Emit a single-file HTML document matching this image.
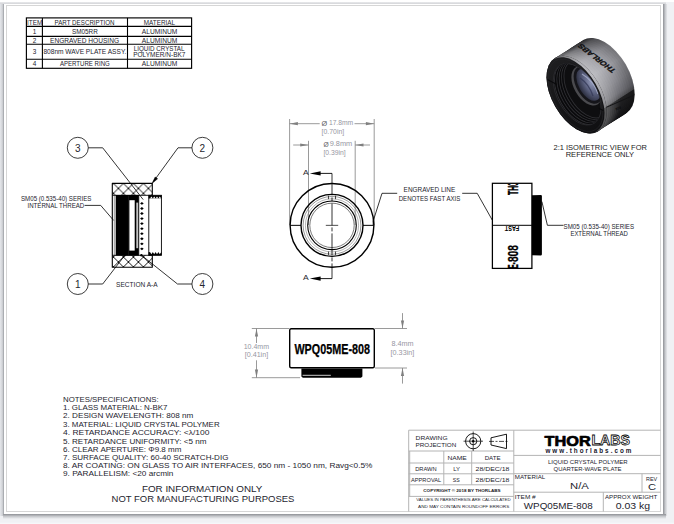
<!DOCTYPE html>
<html lang="en">
<head>
<meta charset="utf-8">
<title>WPQ05ME-808 Drawing</title>
<style>
html,body{margin:0;padding:0;background:#f0f1f4;overflow:hidden;}
body{width:674px;height:524px;position:relative;font-family:'Liberation Sans', sans-serif;}
svg{display:block;position:absolute;left:0;top:0;}
svg text{font-family:"Liberation Sans",sans-serif;}
</style>
</head>
<body>
<svg width="674" height="524" viewBox="0 0 674 524">
<defs>
<linearGradient id="shL" x1="0" x2="1" y1="0" y2="0"><stop offset="0" stop-color="#e6e8ec"/><stop offset="0.6" stop-color="#d0d2d6"/><stop offset="1" stop-color="#9a9da2"/></linearGradient>
<linearGradient id="shR" x1="0" x2="1" y1="0" y2="0"><stop offset="0" stop-color="#8e9095"/><stop offset="0.5" stop-color="#c8cace"/><stop offset="1" stop-color="#f0f1f4"/></linearGradient>
<linearGradient id="shB" x1="0" x2="0" y1="0" y2="1"><stop offset="0" stop-color="#8e9095"/><stop offset="0.5" stop-color="#c8cace"/><stop offset="1" stop-color="#f0f1f4"/></linearGradient>
<linearGradient id="shT" x1="0" x2="0" y1="0" y2="1"><stop offset="0" stop-color="#e9eaec"/><stop offset="1" stop-color="#d4d5d8"/></linearGradient>
</defs>
<rect x="0" y="0" width="674" height="524" stroke="none" stroke-width="1" fill="#f0f1f4"/>
<rect x="0" y="0" width="674" height="2" stroke="none" stroke-width="1" fill="#ffffff"/>
<rect x="0" y="2" width="666" height="2" stroke="none" stroke-width="1" fill="url(#shT)"/>
<rect x="0" y="4" width="4" height="512" stroke="none" stroke-width="1" fill="url(#shL)"/>
<rect x="663" y="4" width="4.6" height="512" stroke="none" stroke-width="1" fill="url(#shR)"/>
<rect x="3" y="514" width="663" height="5" stroke="none" stroke-width="1" fill="url(#shB)"/>
<rect x="0" y="522.6" width="674" height="1.4" stroke="none" stroke-width="1" fill="#f6f7f9"/>
<rect x="4" y="4" width="659" height="510" stroke="none" stroke-width="1" fill="#ffffff"/>
<rect x="6.5" y="5.5" width="654" height="506" stroke="#d6d6d6" stroke-width="1" fill="none"/>
<rect x="26.4" y="17.9" width="165.2" height="50.4" stroke="#000" stroke-width="1.15" fill="none"/>
<line x1="26.4" y1="26.4" x2="191.6" y2="26.4" stroke="#000" stroke-width="1.1"/>
<line x1="26.4" y1="36.4" x2="191.6" y2="36.4" stroke="#000" stroke-width="1.1"/>
<line x1="26.4" y1="44.3" x2="191.6" y2="44.3" stroke="#000" stroke-width="1.1"/>
<line x1="26.4" y1="59.3" x2="191.6" y2="59.3" stroke="#000" stroke-width="1.1"/>
<line x1="42.4" y1="17.9" x2="42.4" y2="68.3" stroke="#000" stroke-width="1.1"/>
<line x1="127.5" y1="17.9" x2="127.5" y2="68.3" stroke="#000" stroke-width="1.1"/>
<text x="27.0" y="24.9" font-size="6.4" textLength="15.2" lengthAdjust="spacingAndGlyphs" fill="#24242e">ITEM</text>
<text x="54.5" y="24.9" font-size="6.4" textLength="60.1" lengthAdjust="spacingAndGlyphs" fill="#24242e">PART DESCRIPTION</text>
<text x="143.8" y="24.8" font-size="6.4" textLength="31.3" lengthAdjust="spacingAndGlyphs" fill="#24242e">MATERIAL</text>
<text x="34.6" y="33.9" font-size="6.4" text-anchor="middle" fill="#24242e">1</text>
<text x="71.9" y="33.8" font-size="6.4" textLength="25.9" lengthAdjust="spacingAndGlyphs" fill="#24242e">SM05RR</text>
<text x="141.8" y="33.8" font-size="6.4" textLength="35.5" lengthAdjust="spacingAndGlyphs" fill="#24242e">ALUMINUM</text>
<text x="34.6" y="42.7" font-size="6.4" text-anchor="middle" fill="#24242e">2</text>
<text x="50.0" y="42.7" font-size="6.4" textLength="69.1" lengthAdjust="spacingAndGlyphs" fill="#24242e">ENGRAVED HOUSING</text>
<text x="141.8" y="42.7" font-size="6.4" textLength="35.5" lengthAdjust="spacingAndGlyphs" fill="#24242e">ALUMINUM</text>
<text x="34.6" y="54.0" font-size="6.4" text-anchor="middle" fill="#24242e">3</text>
<text x="43.4" y="54.0" font-size="6.4" textLength="82.9" lengthAdjust="spacingAndGlyphs" fill="#24242e">808nm WAVE PLATE ASSY.</text>
<text x="133.8" y="50.7" font-size="6.4" textLength="50.6" lengthAdjust="spacingAndGlyphs" fill="#24242e">LIQUID CRYSTAL</text>
<text x="133.2" y="56.6" font-size="6.4" textLength="52.3" lengthAdjust="spacingAndGlyphs" fill="#24242e">POLYMER/N-BK7</text>
<text x="34.6" y="65.8" font-size="6.4" text-anchor="middle" fill="#24242e">4</text>
<text x="59.9" y="65.8" font-size="6.4" textLength="49.9" lengthAdjust="spacingAndGlyphs" fill="#24242e">APERTURE RING</text>
<text x="141.8" y="65.8" font-size="6.4" textLength="35.5" lengthAdjust="spacingAndGlyphs" fill="#24242e">ALUMINUM</text>
<pattern id="hatchT" width="10" height="10" patternUnits="userSpaceOnUse" patternTransform="translate(113.4,183.4)"><path d="M-1,-1L11,11M-1,11L11,-1" stroke="#000" stroke-width="0.9" fill="none"/></pattern>
<pattern id="hatchB" width="10" height="10" patternUnits="userSpaceOnUse" patternTransform="translate(113.4,257)"><path d="M-1,-1L11,11M-1,11L11,-1" stroke="#000" stroke-width="0.9" fill="none"/></pattern>
<rect x="112.3" y="183.4" width="40.000000000000014" height="83.79999999999998" stroke="none" stroke-width="1" fill="#fff"/>
<rect x="112.3" y="183.4" width="40.000000000000014" height="11.900000000000006" stroke="none" stroke-width="1" fill="url(#hatchT)"/>
<rect x="112.3" y="255.3" width="40.000000000000014" height="11.899999999999977" stroke="none" stroke-width="1" fill="url(#hatchB)"/>
<rect x="115.7" y="195.0" width="13.2" height="60.6" stroke="none" stroke-width="1" fill="#000"/>
<line x1="114.3" y1="195.3" x2="114.3" y2="255.3" stroke="#333" stroke-width="0.5"/>
<rect x="128.8" y="195.0" width="10" height="60.6" stroke="none" stroke-width="1" fill="#000"/>
<rect x="129.4" y="200.2" width="5.3" height="50.4" stroke="none" stroke-width="1" fill="#fff"/>
<rect x="136.3" y="202.6" width="2.0" height="45.6" stroke="none" stroke-width="1" fill="#c4c4c4"/>
<rect x="139.2" y="195.70000000000002" width="9" height="59.2" stroke="none" stroke-width="1" fill="#fff"/>
<line x1="138.8" y1="195.3" x2="138.8" y2="255.3" stroke="#000" stroke-width="0.7"/>
<polygon points="140.1,203.4 141.9,202.0 143.7,203.4 141.9,204.8" fill="#000"/>
<polygon points="140.1,208.5 141.9,207.1 143.7,208.5 141.9,209.9" fill="#000"/>
<polygon points="140.1,213.5 141.9,212.1 143.7,213.5 141.9,214.9" fill="#000"/>
<polygon points="140.1,218.6 141.9,217.2 143.7,218.6 141.9,220.0" fill="#000"/>
<polygon points="140.1,223.6 141.9,222.2 143.7,223.6 141.9,225.0" fill="#000"/>
<polygon points="140.1,228.7 141.9,227.2 143.7,228.7 141.9,230.1" fill="#000"/>
<polygon points="140.1,233.7 141.9,232.3 143.7,233.7 141.9,235.1" fill="#000"/>
<polygon points="140.1,238.8 141.9,237.3 143.7,238.8 141.9,240.2" fill="#000"/>
<polygon points="140.1,243.8 141.9,242.4 143.7,243.8 141.9,245.2" fill="#000"/>
<polygon points="140.1,248.8 141.9,247.4 143.7,248.8 141.9,250.2" fill="#000"/>
<rect x="148.8" y="195.3" width="12.6" height="60.0" stroke="#000" stroke-width="0.9" fill="#fff"/>
<rect x="148.6" y="195.3" width="12.9" height="3.2" stroke="none" stroke-width="1" fill="#000"/>
<rect x="148.6" y="252.10000000000002" width="12.9" height="3.2" stroke="none" stroke-width="1" fill="#000"/>
<path d="M150,198.6 l1.4,-2.2 l1.4,2.2 l1.4,-2.2 l1.4,2.2 l1.4,-2.2 l1.4,2.2 l1.4,-2.2 l1.4,2.2 Z" fill="#fff"/>
<path d="M150,252 l1.4,2.2 l1.4,-2.2 l1.4,2.2 l1.4,-2.2 l1.4,2.2 l1.4,-2.2 l1.4,2.2 l1.4,-2.2 Z" fill="#fff"/>
<line x1="112.3" y1="195.3" x2="152.3" y2="195.3" stroke="#000" stroke-width="0.9"/>
<line x1="112.3" y1="255.3" x2="152.3" y2="255.3" stroke="#000" stroke-width="0.9"/>
<path d="M152.3,195.3 L152.3,183.4 L112.3,183.4 L112.3,267.2 L152.3,267.2 L152.3,255.3" fill="none" stroke="#000" stroke-width="1.1" stroke-linejoin="round"/>
<circle cx="77.8" cy="147.8" r="10.5" stroke="#1a1a1a" stroke-width="0.85" fill="#fff"/>
<text x="77.8" y="151.5" font-size="10" text-anchor="middle" fill="#26262e">3</text>
<circle cx="202.4" cy="147.8" r="10.5" stroke="#1a1a1a" stroke-width="0.85" fill="#fff"/>
<text x="202.4" y="151.5" font-size="10" text-anchor="middle" fill="#26262e">2</text>
<circle cx="77.8" cy="284" r="10.5" stroke="#1a1a1a" stroke-width="0.85" fill="#fff"/>
<text x="77.8" y="287.7" font-size="10" text-anchor="middle" fill="#26262e">1</text>
<circle cx="202.4" cy="284" r="10.5" stroke="#1a1a1a" stroke-width="0.85" fill="#fff"/>
<text x="202.4" y="287.7" font-size="10" text-anchor="middle" fill="#26262e">4</text>
<polyline points="88.3,147.8 102.7,147.8 143.2,199.6" stroke="#000" stroke-width="0.8" fill="none"/>
<polyline points="191.9,147.8 178,147.8 153.4,181.6" stroke="#000" stroke-width="0.8" fill="none"/>
<polygon points="152.0,183.5 155.2,177.0 157.6,178.8" fill="#000" stroke="#000" stroke-width="0.5"/>
<polyline points="88.3,284 102.7,284 124.6,255.6" stroke="#000" stroke-width="0.8" fill="none"/>
<polyline points="191.9,284 177.5,284 141.4,255.2" stroke="#000" stroke-width="0.8" fill="none"/>
<circle cx="141.4" cy="255.2" r="1.2" stroke="none" stroke-width="1" fill="#000"/>
<circle cx="124.6" cy="255.6" r="1.0" stroke="none" stroke-width="1" fill="#000"/>
<text x="21.0" y="201" font-size="6.3" textLength="70.4" lengthAdjust="spacingAndGlyphs" fill="#24242e">SM05 (0.535-40) SERIES</text>
<text x="27.5" y="207.9" font-size="6.3" textLength="56.7" lengthAdjust="spacingAndGlyphs" fill="#24242e">INTERNAL THREAD</text>
<polyline points="84.6,205.4 100.7,205.4 113.6,220.4" stroke="#000" stroke-width="0.8" fill="none"/>
<text x="116.1" y="286.8" font-size="6.3" textLength="41.5" lengthAdjust="spacingAndGlyphs" fill="#24242e">SECTION A-A</text>
<line x1="289.6" y1="119" x2="289.6" y2="225" stroke="#808080" stroke-width="0.8"/>
<line x1="374.2" y1="119" x2="374.2" y2="225" stroke="#808080" stroke-width="0.8"/>
<line x1="308.5" y1="140.8" x2="308.5" y2="225" stroke="#808080" stroke-width="0.8"/>
<line x1="355.2" y1="140.8" x2="355.2" y2="225" stroke="#808080" stroke-width="0.8"/>
<circle cx="332.0" cy="225.35" r="41.9" stroke="#000" stroke-width="1.4" fill="none"/>
<circle cx="332.0" cy="225.35" r="31.0" stroke="#000" stroke-width="1.4" fill="none"/>
<circle cx="332.0" cy="225.35" r="28.9" stroke="#444" stroke-width="0.55" fill="none"/>
<circle cx="332.0" cy="225.35" r="26.6" stroke="#777" stroke-width="0.55" fill="none"/>
<circle cx="332.0" cy="225.35" r="24.3" stroke="#000" stroke-width="1.1" fill="none"/>
<circle cx="332.0" cy="225.35" r="22.2" stroke="#222" stroke-width="0.6" fill="none"/>
<line x1="290.1" y1="225.35" x2="301.0" y2="225.35" stroke="#000" stroke-width="1"/>
<line x1="363.0" y1="225.35" x2="373.9" y2="225.35" stroke="#000" stroke-width="1"/>
<line x1="328.5" y1="195.75" x2="328.5" y2="199.15" stroke="#000" stroke-width="0.7"/>
<line x1="328.5" y1="251.54999999999998" x2="328.5" y2="254.95" stroke="#000" stroke-width="0.7"/>
<line x1="335.5" y1="195.75" x2="335.5" y2="199.15" stroke="#000" stroke-width="0.7"/>
<line x1="335.5" y1="251.54999999999998" x2="335.5" y2="254.95" stroke="#000" stroke-width="0.7"/>
<line x1="325.8" y1="225.35" x2="338.2" y2="225.35" stroke="#000" stroke-width="0.7"/>
<line x1="332.0" y1="173.4" x2="332.0" y2="278.6" stroke="#000" stroke-width="0.8" stroke-dasharray="22,2,4,2" stroke-dashoffset="0"/>
<line x1="332.0" y1="173.4" x2="318" y2="173.4" stroke="#000" stroke-width="0.9"/>
<polygon points="309.8,173.4 320.6,171.3 320.6,175.5" fill="#000"/>
<line x1="332.0" y1="278.6" x2="318" y2="278.6" stroke="#000" stroke-width="0.9"/>
<polygon points="309.8,278.6 320.6,276.5 320.6,280.7" fill="#000"/>
<text x="302.9" y="174.8" font-size="7.6" textLength="5.7" lengthAdjust="spacingAndGlyphs" fill="#26262e">A</text>
<text x="302.9" y="280.2" font-size="7.6" textLength="5.7" lengthAdjust="spacingAndGlyphs" fill="#26262e">A</text>
<line x1="289.6" y1="123.7" x2="319.7" y2="123.7" stroke="#808080" stroke-width="0.8"/>
<line x1="354.5" y1="123.7" x2="374.2" y2="123.7" stroke="#808080" stroke-width="0.8"/>
<polygon points="289.6,123.7 297.9,122.1 297.9,125.3" fill="#808080"/>
<polygon points="374.2,123.7 365.9,122.1 365.9,125.3" fill="#808080"/>
<text x="321.6" y="126.2" font-size="8" textLength="5.7" lengthAdjust="spacingAndGlyphs" fill="#5a5a60">Ø</text>
<text x="328.9" y="125.2" font-size="6.5" textLength="24.3" lengthAdjust="spacingAndGlyphs" fill="#9696a2">17.8mm</text>
<text x="321.6" y="134.4" font-size="6.5" textLength="22.6" lengthAdjust="spacingAndGlyphs" fill="#9696a2">[0.70in]</text>
<line x1="293.2" y1="145" x2="308.5" y2="145" stroke="#808080" stroke-width="0.8"/>
<line x1="355.2" y1="145" x2="370" y2="145" stroke="#808080" stroke-width="0.8"/>
<polygon points="308.5,145 300.2,143.4 300.2,146.6" fill="#808080"/>
<polygon points="355.2,145 363.5,143.4 363.5,146.6" fill="#808080"/>
<text x="323.5" y="147.3" font-size="8" textLength="5.2" lengthAdjust="spacingAndGlyphs" fill="#5a5a60">Ø</text>
<text x="329.7" y="146.3" font-size="6.5" textLength="22.6" lengthAdjust="spacingAndGlyphs" fill="#9696a2">9.8mm</text>
<text x="323.4" y="154.8" font-size="6.5" textLength="22.3" lengthAdjust="spacingAndGlyphs" fill="#9696a2">[0.39in]</text>
<text x="403.6" y="192" font-size="6.3" textLength="51.7" lengthAdjust="spacingAndGlyphs" fill="#24242e">ENGRAVED LINE</text>
<text x="398.7" y="201" font-size="6.3" textLength="61.6" lengthAdjust="spacingAndGlyphs" fill="#24242e">DENOTES FAST AXIS</text>
<polyline points="397.2,193.3 382,193.3 373.2,221 373.2,225" stroke="#000" stroke-width="0.8" fill="none"/>
<polyline points="462.2,193.3 477.2,193.3 492.8,221 492.8,225" stroke="#000" stroke-width="0.8" fill="none"/>
<rect x="492.4" y="183.3" width="39.5" height="85.1" stroke="#000" stroke-width="1.25" fill="#fff"/>
<line x1="492.4" y1="225.3" x2="531.9" y2="225.3" stroke="#000" stroke-width="1"/>
<path d="M531.9,195.2 L541.2,195 L541.9,195.8 L541.9,254.6 L541.2,255.4 L531.9,255.2 Z" fill="#000"/>
<clipPath id="sideClip"><rect x="492.9" y="183.8" width="38.5" height="84.1"/></clipPath>
<g clip-path="url(#sideClip)" font-weight="bold" fill="#000">
<text transform="translate(518.4,195) rotate(-90) scale(0.45,1)" font-size="15.5" stroke="#000" stroke-width="0.4">TH</text>
<text transform="translate(518.4,185.8) rotate(-90) scale(0.22,1)" font-size="15.5" stroke="#000" stroke-width="0.4">O</text>
<text transform="translate(518.2,262.1) rotate(-90) scale(0.66,1)" font-size="15.5" stroke="#000" stroke-width="0.3">808</text>
<text transform="translate(518.2,268.6) rotate(-90) scale(0.4,1)" font-size="15.5" stroke="#000" stroke-width="0.4">E-</text>
</g>
<text transform="translate(504.8,225.8) rotate(180)" font-size="7.8" font-weight="bold" fill="#000" text-anchor="end" textLength="14.4" lengthAdjust="spacingAndGlyphs">FAST</text>
<polyline points="541.9,201.6 547.4,225.3 563.5,225.3" stroke="#000" stroke-width="0.8" fill="none"/>
<text x="563.6" y="228.6" font-size="6.3" textLength="70.5" lengthAdjust="spacingAndGlyphs" fill="#24242e">SM05 (0.535-40) SERIES</text>
<text x="570.4" y="235.8" font-size="6.3" textLength="57.5" lengthAdjust="spacingAndGlyphs" fill="#24242e">EXTERNAL THREAD</text>
<linearGradient id="isoSide" x1="0" y1="0" x2="1" y2="0"><stop offset="0" stop-color="#343437"/><stop offset="0.05" stop-color="#66666a"/><stop offset="0.2" stop-color="#98989e"/><stop offset="0.4" stop-color="#a6a6ac"/><stop offset="0.6" stop-color="#8a8a90"/><stop offset="0.74" stop-color="#707076"/><stop offset="0.795" stop-color="#56565a"/><stop offset="0.805" stop-color="#222224"/><stop offset="1" stop-color="#141416"/></linearGradient>
<linearGradient id="isoFace" x1="0" y1="0" x2="1" y2="0"><stop offset="0" stop-color="#1e1e20"/><stop offset="0.5" stop-color="#161618"/><stop offset="1" stop-color="#101012"/></linearGradient>
<radialGradient id="isoLens" cx="0.5" cy="0.35" r="0.7"><stop offset="0" stop-color="#8c93b2"/><stop offset="0.45" stop-color="#5a607e"/><stop offset="1" stop-color="#222432"/></radialGradient>
<clipPath id="isoBody"><path d="M555.4,57.8 L583.4,40.0 A42.5,24.5 60 0 1 625.9,113.6 L597.9,131.4 A42.5,24.5 60 0 1 555.4,57.8 Z"/></clipPath>
<ellipse cx="604.60" cy="76.80" rx="42.5" ry="24.5" transform="rotate(60 604.60 76.80)" fill="url(#isoSide)"/>
<ellipse cx="604.60" cy="76.80" rx="42.5" ry="24.5" transform="rotate(60 604.60 76.80)" fill="#000" opacity="0.25"/>
<ellipse cx="602.60" cy="78.07" rx="42.5" ry="24.5" transform="rotate(60 602.60 78.07)" fill="url(#isoSide)"/>
<ellipse cx="602.60" cy="78.07" rx="42.5" ry="24.5" transform="rotate(60 602.60 78.07)" fill="#000" opacity="0.21"/>
<ellipse cx="600.60" cy="79.34" rx="42.5" ry="24.5" transform="rotate(60 600.60 79.34)" fill="url(#isoSide)"/>
<ellipse cx="600.60" cy="79.34" rx="42.5" ry="24.5" transform="rotate(60 600.60 79.34)" fill="#000" opacity="0.17"/>
<ellipse cx="598.60" cy="80.61" rx="42.5" ry="24.5" transform="rotate(60 598.60 80.61)" fill="url(#isoSide)"/>
<ellipse cx="598.60" cy="80.61" rx="42.5" ry="24.5" transform="rotate(60 598.60 80.61)" fill="#000" opacity="0.13"/>
<ellipse cx="596.60" cy="81.89" rx="42.5" ry="24.5" transform="rotate(60 596.60 81.89)" fill="url(#isoSide)"/>
<ellipse cx="596.60" cy="81.89" rx="42.5" ry="24.5" transform="rotate(60 596.60 81.89)" fill="#000" opacity="0.09"/>
<ellipse cx="594.60" cy="83.16" rx="42.5" ry="24.5" transform="rotate(60 594.60 83.16)" fill="url(#isoSide)"/>
<ellipse cx="594.60" cy="83.16" rx="42.5" ry="24.5" transform="rotate(60 594.60 83.16)" fill="#000" opacity="0.05"/>
<ellipse cx="592.60" cy="84.43" rx="42.5" ry="24.5" transform="rotate(60 592.60 84.43)" fill="url(#isoSide)"/>
<ellipse cx="592.60" cy="84.43" rx="42.5" ry="24.5" transform="rotate(60 592.60 84.43)" fill="#000" opacity="0.01"/>
<ellipse cx="590.60" cy="85.70" rx="42.5" ry="24.5" transform="rotate(60 590.60 85.70)" fill="url(#isoSide)"/>
<ellipse cx="590.60" cy="85.70" rx="42.5" ry="24.5" transform="rotate(60 590.60 85.70)" fill="#fff" opacity="0.02"/>
<ellipse cx="588.60" cy="86.97" rx="42.5" ry="24.5" transform="rotate(60 588.60 86.97)" fill="url(#isoSide)"/>
<ellipse cx="588.60" cy="86.97" rx="42.5" ry="24.5" transform="rotate(60 588.60 86.97)" fill="#fff" opacity="0.06"/>
<ellipse cx="586.60" cy="88.24" rx="42.5" ry="24.5" transform="rotate(60 586.60 88.24)" fill="url(#isoSide)"/>
<ellipse cx="586.60" cy="88.24" rx="42.5" ry="24.5" transform="rotate(60 586.60 88.24)" fill="#fff" opacity="0.10"/>
<ellipse cx="584.60" cy="89.51" rx="42.5" ry="24.5" transform="rotate(60 584.60 89.51)" fill="url(#isoSide)"/>
<ellipse cx="584.60" cy="89.51" rx="42.5" ry="24.5" transform="rotate(60 584.60 89.51)" fill="#fff" opacity="0.14"/>
<ellipse cx="582.60" cy="90.79" rx="42.5" ry="24.5" transform="rotate(60 582.60 90.79)" fill="url(#isoSide)"/>
<ellipse cx="582.60" cy="90.79" rx="42.5" ry="24.5" transform="rotate(60 582.60 90.79)" fill="#fff" opacity="0.18"/>
<ellipse cx="580.60" cy="92.06" rx="42.5" ry="24.5" transform="rotate(60 580.60 92.06)" fill="url(#isoSide)"/>
<ellipse cx="580.60" cy="92.06" rx="42.5" ry="24.5" transform="rotate(60 580.60 92.06)" fill="#fff" opacity="0.22"/>
<ellipse cx="578.60" cy="93.33" rx="42.5" ry="24.5" transform="rotate(60 578.60 93.33)" fill="url(#isoSide)"/>
<ellipse cx="578.60" cy="93.33" rx="42.5" ry="24.5" transform="rotate(60 578.60 93.33)" fill="#fff" opacity="0.26"/>
<ellipse cx="576.60" cy="94.60" rx="42.5" ry="24.5" transform="rotate(60 576.60 94.60)" fill="url(#isoSide)"/>
<ellipse cx="576.60" cy="94.60" rx="42.5" ry="24.5" transform="rotate(60 576.60 94.60)" fill="#fff" opacity="0.30"/>
<g clip-path="url(#isoBody)">
<text transform="matrix(-0.63,-0.485,0.66,-0.38,616.5,70.5)" font-size="10" font-weight="bold" fill="#0e0e10" stroke="#0e0e10" stroke-width="0.4">THORLABS</text>
<text transform="matrix(0.8,-0.36,0.3,0.8,616,110.5)" font-size="4" font-weight="bold" fill="#0c0c0e">808</text>
<line x1="601.5" y1="109.4" x2="634.4" y2="95.0" stroke="#141416" stroke-width="1"/>
</g>
<clipPath id="isoFront"><ellipse cx="576.6" cy="94.6" rx="42.5" ry="24.5" transform="rotate(60 576.6 94.6)"/></clipPath>
<ellipse cx="576.6" cy="94.6" rx="42.5" ry="24.5" transform="rotate(60 576.6 94.6)" fill="#161618"/>
<g clip-path="url(#isoFront)"><ellipse cx="579.20" cy="93.10" rx="42.5" ry="24.5" transform="rotate(60 579.20 93.10)" fill="url(#isoSide)"/><ellipse cx="579.20" cy="93.10" rx="42.5" ry="24.5" transform="rotate(60 579.20 93.10)" fill="#fff" opacity="0.25"/></g>
<ellipse cx="575.50" cy="95.25" rx="41.9" ry="23.2" transform="rotate(60 575.50 95.25)" fill="url(#isoFace)"/>
<ellipse cx="575.50" cy="95.25" rx="39.9" ry="21.7" transform="rotate(60 575.50 95.25)" fill="none" stroke="#262628" stroke-width="0.6"/>
<clipPath id="isoHole"><ellipse cx="577.20" cy="94.30" rx="33.6" ry="19.6" transform="rotate(60 577.20 94.30)"/></clipPath>
<ellipse cx="577.20" cy="94.30" rx="33.6" ry="19.6" transform="rotate(60 577.20 94.30)" fill="#0e0e10" stroke="#303034" stroke-width="0.7"/>
<g clip-path="url(#isoHole)">
<ellipse cx="578.4" cy="93.6" rx="33.6" ry="19.6" transform="rotate(60 578.4 93.6)" fill="none" stroke="#2e2e32" stroke-width="0.9"/>
<ellipse cx="579.4" cy="93.0" rx="33.3" ry="19.5" transform="rotate(60 579.4 93.0)" fill="none" stroke="#0a0a0c" stroke-width="0.9"/>
<ellipse cx="580.4" cy="92.5" rx="33.1" ry="19.3" transform="rotate(60 580.4 92.5)" fill="none" stroke="#2e2e32" stroke-width="0.9"/>
<ellipse cx="581.4" cy="91.9" rx="32.8" ry="19.2" transform="rotate(60 581.4 91.9)" fill="none" stroke="#0a0a0c" stroke-width="0.9"/>
<ellipse cx="582.4" cy="91.3" rx="32.6" ry="19.0" transform="rotate(60 582.4 91.3)" fill="none" stroke="#2e2e32" stroke-width="0.9"/>
<ellipse cx="583.4" cy="90.7" rx="32.3" ry="18.9" transform="rotate(60 583.4 90.7)" fill="none" stroke="#0a0a0c" stroke-width="0.9"/>
<ellipse cx="584.4" cy="90.1" rx="32.1" ry="18.7" transform="rotate(60 584.4 90.1)" fill="none" stroke="#2e2e32" stroke-width="0.9"/>
<ellipse cx="585.4" cy="89.6" rx="31.8" ry="18.6" transform="rotate(60 585.4 89.6)" fill="none" stroke="#0a0a0c" stroke-width="0.9"/>
<ellipse cx="586.4" cy="89.0" rx="31.6" ry="18.4" transform="rotate(60 586.4 89.0)" fill="none" stroke="#2e2e32" stroke-width="0.9"/>
<ellipse cx="586.7" cy="85.8" rx="21.5" ry="12.6" transform="rotate(60 586.7 85.8)" fill="#4a4a4e"/>
<ellipse cx="588.0" cy="85.0" rx="20.6" ry="11.6" transform="rotate(60 588.0 85.0)" fill="#15151a"/>
<ellipse cx="588.4" cy="84.8" rx="17.6" ry="9.6" transform="rotate(60 588.4 84.8)" fill="url(#isoLens)"/>
<path d="M582.0,74.0 Q594.0,81.0 598.0,94.0" fill="none" stroke="#b4bad6" stroke-width="1.2" opacity="0.7"/>
<path d="M580.0,78.0 Q589.0,84.0 593.0,96.0" fill="none" stroke="#353a58" stroke-width="1.4" opacity="0.8"/>
</g>
<line x1="547.4" y1="79.4" x2="556.8" y2="84.4" stroke="#0a0a0c" stroke-width="1.1"/>
<line x1="598.6" y1="108.2" x2="603.4" y2="110.6" stroke="#0a0a0c" stroke-width="1.1"/>
<text x="553.5" y="150" font-size="7.1" textLength="93.4" lengthAdjust="spacingAndGlyphs" fill="#1a1a22">2:1 ISOMETRIC VIEW FOR</text>
<text x="565.7" y="156.9" font-size="7.1" textLength="68.4" lengthAdjust="spacingAndGlyphs" fill="#1a1a22">REFERENCE ONLY</text>
<line x1="251.8" y1="328.5" x2="289" y2="328.5" stroke="#808080" stroke-width="0.8"/>
<line x1="251.8" y1="377.7" x2="300" y2="377.7" stroke="#808080" stroke-width="0.8"/>
<line x1="256.5" y1="328.5" x2="256.5" y2="343" stroke="#808080" stroke-width="0.8"/>
<line x1="256.5" y1="360.3" x2="256.5" y2="377.7" stroke="#808080" stroke-width="0.8"/>
<polygon points="256.5,328.5 254.9,336.6 258.1,336.6" fill="#808080"/>
<polygon points="256.5,377.7 254.9,369.6 258.1,369.6" fill="#808080"/>
<text x="243.7" y="348.9" font-size="6.5" textLength="25.4" lengthAdjust="spacingAndGlyphs" fill="#9696a2">10.4mm</text>
<text x="244.7" y="357.2" font-size="6.5" textLength="23.5" lengthAdjust="spacingAndGlyphs" fill="#9696a2">[0.41in]</text>
<line x1="375" y1="328.5" x2="407" y2="328.5" stroke="#808080" stroke-width="0.8"/>
<line x1="375" y1="368" x2="407" y2="368" stroke="#808080" stroke-width="0.8"/>
<line x1="402.5" y1="313.1" x2="402.5" y2="328.5" stroke="#808080" stroke-width="0.8"/>
<line x1="402.5" y1="368" x2="402.5" y2="383.6" stroke="#808080" stroke-width="0.8"/>
<polygon points="402.5,328.5 400.9,320.4 404.1,320.4" fill="#808080"/>
<polygon points="402.5,368 400.9,376.1 404.1,376.1" fill="#808080"/>
<text x="391.4" y="345.5" font-size="6.5" textLength="22.1" lengthAdjust="spacingAndGlyphs" fill="#9696a2">8.4mm</text>
<text x="390.6" y="355.2" font-size="6.5" textLength="23.7" lengthAdjust="spacingAndGlyphs" fill="#9696a2">[0.33in]</text>
<rect x="289.7" y="328.7" width="84.6" height="39.1" stroke="#000" stroke-width="1.4" fill="#fff" rx="1.5"/>
<path d="M301.4,368.4 L362.4,368.4 L362.4,376.4 L361,377.7 L302.8,377.7 L301.4,376.4 Z" fill="#000"/>
<text x="294.4" y="353.7" font-size="14.6" font-weight="bold" textLength="75.6" lengthAdjust="spacingAndGlyphs" fill="#000" stroke="#000" stroke-width="0.25">WPQ05ME-808</text>
<line x1="302.6" y1="375.3" x2="330.8" y2="375.3" stroke="#fff" stroke-width="0.8"/>
<text x="63.0" y="401.5" font-size="7.2" textLength="95.7" lengthAdjust="spacingAndGlyphs" fill="#24242e">NOTES/SPECIFICATIONS:</text>
<text x="63.0" y="409.5" font-size="7.2" textLength="104.5" lengthAdjust="spacingAndGlyphs" fill="#24242e">1. GLASS MATERIAL: N-BK7</text>
<text x="63.0" y="418.4" font-size="7.2" textLength="130.4" lengthAdjust="spacingAndGlyphs" fill="#24242e">2. DESIGN WAVELENGTH: 808 nm</text>
<text x="63.0" y="426.6" font-size="7.2" textLength="156.6" lengthAdjust="spacingAndGlyphs" fill="#24242e">3. MATERIAL: LIQUID CRYSTAL POLYMER</text>
<text x="63.0" y="435.4" font-size="7.2" textLength="146.4" lengthAdjust="spacingAndGlyphs" fill="#24242e">4. RETARDANCE ACCURACY: &lt;λ/100</text>
<text x="63.0" y="443.5" font-size="7.2" textLength="143.5" lengthAdjust="spacingAndGlyphs" fill="#24242e">5. RETARDANCE UNIFORMITY: &lt;5 nm</text>
<text x="63.0" y="451.6" font-size="7.2" textLength="118.4" lengthAdjust="spacingAndGlyphs" fill="#24242e">6. CLEAR APERTURE: Φ9.8 mm</text>
<text x="63.0" y="460.2" font-size="7.2" textLength="165.4" lengthAdjust="spacingAndGlyphs" fill="#24242e">7. SURFACE QUALITY: 60-40 SCRATCH-DIG</text>
<text x="63.0" y="468.2" font-size="7.2" textLength="309.5" lengthAdjust="spacingAndGlyphs" fill="#24242e">8. AR COATING: ON GLASS TO AIR INTERFACES, 650 nm - 1050 nm, Ravg&lt;0.5%</text>
<text x="63.0" y="476.3" font-size="7.2" textLength="110.4" lengthAdjust="spacingAndGlyphs" fill="#24242e">9. PARALLELISM: &lt;20 arcmin</text>
<text x="141.9" y="491.5" font-size="9" textLength="120.4" lengthAdjust="spacingAndGlyphs" fill="#24242e">FOR INFORMATION ONLY</text>
<text x="111.6" y="501.5" font-size="9" textLength="182.8" lengthAdjust="spacingAndGlyphs" fill="#24242e">NOT FOR MANUFACTURING PURPOSES</text>
<line x1="408.7" y1="430.2" x2="660.5" y2="430.2" stroke="#b4b4b4" stroke-width="1"/>
<line x1="408.7" y1="430.2" x2="408.7" y2="511.5" stroke="#b4b4b4" stroke-width="1"/>
<line x1="513.8" y1="430.2" x2="513.8" y2="511.5" stroke="#b4b4b4" stroke-width="1"/>
<line x1="408.7" y1="451" x2="513.8" y2="451" stroke="#b4b4b4" stroke-width="1"/>
<line x1="408.7" y1="463" x2="513.8" y2="463" stroke="#b4b4b4" stroke-width="1"/>
<line x1="408.7" y1="473.8" x2="513.8" y2="473.8" stroke="#b4b4b4" stroke-width="1"/>
<line x1="408.7" y1="484.8" x2="513.8" y2="484.8" stroke="#b4b4b4" stroke-width="1"/>
<line x1="408.7" y1="496.4" x2="513.8" y2="496.4" stroke="#b4b4b4" stroke-width="1"/>
<line x1="409.7" y1="451" x2="409.7" y2="496.4" stroke="#b4b4b4" stroke-width="1"/>
<line x1="443.8" y1="451" x2="443.8" y2="484.8" stroke="#b4b4b4" stroke-width="1"/>
<line x1="471.7" y1="451" x2="471.7" y2="484.8" stroke="#b4b4b4" stroke-width="1"/>
<line x1="513.8" y1="455.4" x2="660.5" y2="455.4" stroke="#b4b4b4" stroke-width="1"/>
<line x1="513.8" y1="473.7" x2="660.5" y2="473.7" stroke="#b4b4b4" stroke-width="1"/>
<line x1="513.8" y1="492.2" x2="660.5" y2="492.2" stroke="#b4b4b4" stroke-width="1"/>
<line x1="642" y1="473.7" x2="642" y2="492.2" stroke="#b4b4b4" stroke-width="1"/>
<line x1="603.3" y1="492.2" x2="603.3" y2="511.5" stroke="#b4b4b4" stroke-width="1"/>
<text x="415.6" y="439.8" font-size="5.9" textLength="32.0" lengthAdjust="spacingAndGlyphs" fill="#24242e">DRAWING</text>
<text x="415.6" y="446.6" font-size="5.9" textLength="40.6" lengthAdjust="spacingAndGlyphs" fill="#24242e">PROJECTION</text>
<circle cx="473.2" cy="441.2" r="7.6" stroke="#000" stroke-width="0.9" fill="none"/>
<circle cx="473.2" cy="441.2" r="3.6" stroke="#000" stroke-width="0.9" fill="none"/>
<circle cx="473.2" cy="441.2" r="1.2" stroke="none" stroke-width="1" fill="#000"/>
<line x1="463.5" y1="441.2" x2="483" y2="441.2" stroke="#000" stroke-width="0.7"/>
<line x1="473.2" y1="431.5" x2="473.2" y2="451" stroke="#000" stroke-width="0.7"/>
<polygon points="491,437.8 506.5,434.2 506.5,448.6 491,445" fill="none" stroke="#000" stroke-width="0.9"/>
<line x1="489" y1="441.4" x2="508.5" y2="441.4" stroke="#000" stroke-width="0.7" stroke-dasharray="5,1.5,2,1.5"/>
<text x="447.4" y="459.7" font-size="5.9" textLength="19.4" lengthAdjust="spacingAndGlyphs" fill="#24242e">NAME</text>
<text x="484.7" y="459.7" font-size="5.9" textLength="15.9" lengthAdjust="spacingAndGlyphs" fill="#24242e">DATE</text>
<text x="415.2" y="470.7" font-size="5.2" textLength="21.4" lengthAdjust="spacingAndGlyphs" fill="#24242e">DRAWN</text>
<text x="453.2" y="470.7" font-size="5.9" textLength="6.9" lengthAdjust="spacingAndGlyphs" fill="#24242e">LY</text>
<text x="475.6" y="470.7" font-size="5.9" textLength="33.9" lengthAdjust="spacingAndGlyphs" fill="#24242e">28/DEC/18</text>
<text x="411.0" y="481.9" font-size="5.2" textLength="30.2" lengthAdjust="spacingAndGlyphs" fill="#24242e">APPROVAL</text>
<text x="452.8" y="481.9" font-size="5.9" textLength="6.9" lengthAdjust="spacingAndGlyphs" fill="#24242e">SS</text>
<text x="475.6" y="481.9" font-size="5.9" textLength="33.9" lengthAdjust="spacingAndGlyphs" fill="#24242e">28/DEC/18</text>
<text x="423.3" y="491.6" font-size="4.4" font-weight="bold" textLength="77.3" lengthAdjust="spacingAndGlyphs" fill="#16161c">COPYRIGHT © 2018 BY THORLABS</text>
<text x="416.2" y="501.4" font-size="4.4" textLength="94.4" lengthAdjust="spacingAndGlyphs" fill="#24242e">VALUES IN PARENTHESIS ARE CALCULATED</text>
<text x="418.1" y="507.5" font-size="4.4" textLength="91.2" lengthAdjust="spacingAndGlyphs" fill="#24242e">AND MAY CONTAIN ROUNDOFF ERRORS</text>
<text x="544.6" y="445.5" font-size="15" font-weight="bold" textLength="46.2" lengthAdjust="spacingAndGlyphs" fill="#000" stroke="#000" stroke-width="0.7" stroke-linejoin="round">THOR</text>
<text x="591.4" y="445.4" font-size="15" font-weight="bold" textLength="38.6" lengthAdjust="spacingAndGlyphs" fill="#fff" stroke="#000" stroke-width="0.8">LABS</text>
<text x="545.4" y="452.8" font-size="6.3" font-weight="bold" fill="#15152a" textLength="86" lengthAdjust="spacing">www.thorlabs.com</text>
<text x="548.0" y="464.2" font-size="5.9" textLength="79.6" lengthAdjust="spacingAndGlyphs" fill="#24242e">LIQUID CRYSTAL POLYMER</text>
<text x="553.5" y="470.8" font-size="5.9" textLength="68.1" lengthAdjust="spacingAndGlyphs" fill="#24242e">QUARTER-WAVE PLATE</text>
<text x="514.8" y="478.9" font-size="5.9" textLength="30.4" lengthAdjust="spacingAndGlyphs" fill="#24242e">MATERIAL</text>
<text x="570.1" y="489.1" font-size="9.6" textLength="18.8" lengthAdjust="spacingAndGlyphs" fill="#24242e">N/A</text>
<text x="646.0" y="480.8" font-size="5.9" textLength="11.2" lengthAdjust="spacingAndGlyphs" fill="#24242e">REV</text>
<text x="647.9" y="489.8" font-size="9.6" textLength="8.1" lengthAdjust="spacingAndGlyphs" fill="#24242e">C</text>
<text x="514.8" y="498.6" font-size="5.9" textLength="20.9" lengthAdjust="spacingAndGlyphs" fill="#24242e">ITEM #</text>
<text x="523.8" y="508.6" font-size="9.7" textLength="68.9" lengthAdjust="spacingAndGlyphs" fill="#24242e">WPQ05ME-808</text>
<text x="605.0" y="498.6" font-size="5.9" textLength="52.2" lengthAdjust="spacingAndGlyphs" fill="#24242e">APPROX WEIGHT</text>
<text x="615.7" y="508.6" font-size="9.7" textLength="34.4" lengthAdjust="spacingAndGlyphs" fill="#24242e">0.03 kg</text>
</svg>
</body>
</html>
